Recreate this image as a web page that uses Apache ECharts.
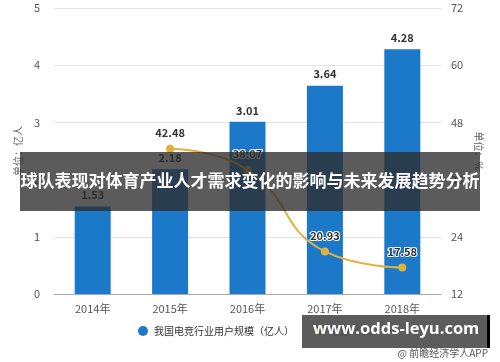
<!DOCTYPE html>
<html><head><meta charset="utf-8">
<script src="https://cdn.jsdelivr.net/npm/echarts@6/dist/echarts.min.js"></script>
<style>html,body{margin:0;padding:0;background:#fff}#c{width:500px;height:362px}</style>
</head><body><div id="c"></div>
<script>
const categories = ['2014年','2015年','2016年','2017年','2018年'];
const users = [1.53, 2.18, 3.01, 3.64, 4.28];
const growth = [null, 42.48, 38.07, 20.93, 17.58];
const seriesNames = ['我国电竞行业用户规模（亿人）', '增速（%）'];
const titleText = '球队表现对体育产业人才需求变化的影响与未来发展趋势分析';
const siteText = 'www.odds-leyu.com';
const sourceText = '@ 前瞻经济学人APP';

const chart = echarts.init(document.getElementById('c'));
chart.setOption({
  animation: false,
  textStyle: {fontFamily: '"Noto Sans CJK SC", "Noto Sans", sans-serif'},
  grid: {left: 54, right: 59, top: 8, bottom: 68},
  legend: {
    bottom: 21, left: 133, itemGap: 18, itemWidth: 12, itemHeight: 10,
    textStyle: {fontSize: 10, color: '#333'},
    data: [{name: seriesNames[0], icon: 'circle'}, {name: seriesNames[1]}]
  },
  xAxis: {
    type: 'category', data: categories,
    axisLine: {lineStyle: {color: '#aaa'}},
    axisTick: {alignWithLabel: true, lineStyle: {color: '#aaa'}},
    axisLabel: {color: '#555', fontSize: 11, margin: 9}
  },
  yAxis: [{
    type: 'value', min: 0, max: 5, interval: 1,
    name: '单位：亿人', nameLocation: 'middle', nameGap: 27, nameRotate: 90,
    nameTextStyle: {color: '#666', fontSize: 10},
    axisLine: {show: false}, axisTick: {show: false},
    axisLabel: {color: '#555', fontSize: 11, margin: 14},
    splitLine: {lineStyle: {color: '#e3e3e3'}}
  }, {
    type: 'value', min: 12, max: 72, interval: 12,
    name: '单位：%', nameLocation: 'middle', nameGap: 27, nameRotate: -90,
    nameTextStyle: {color: '#666', fontSize: 10},
    axisLine: {show: false}, axisTick: {show: false},
    axisLabel: {color: '#555', fontSize: 11, margin: 10},
    splitLine: {show: false}
  }],
  series: [{
    name: seriesNames[0], type: 'bar', data: users, barWidth: 36,
    itemStyle: {color: '#1c79c9'},
    label: {show: true, position: 'top', color: '#333', fontWeight: 'bold', fontSize: 11, distance: 6}
  }, {
    name: seriesNames[1], type: 'line', yAxisIndex: 1, data: growth, smooth: true,
    symbol: 'circle', symbolSize: 8,
    lineStyle: {color: '#e2b13c', width: 2}, itemStyle: {color: '#e2b13c'},
    label: {show: true, position: 'top', color: '#333', fontWeight: 'bold', fontSize: 11,
      textBorderColor: '#fff', textBorderWidth: 2, distance: 6}
  }],
  graphic: [{
    type: 'rect', left: 20, top: 152, z: 100,
    shape: {width: 460, height: 59},
    style: {fill: 'rgba(45,45,45,0.78)'}
  }, {
    type: 'text', left: 'center', top: 172, z: 101,
    style: {text: titleText, fill: '#fff', font: 'bold 17px "Noto Sans CJK SC", sans-serif'}
  }, {
    type: 'rect', left: 302, top: 315, z: 100,
    shape: {width: 185, height: 33},
    style: {fill: 'rgba(70,70,70,0.88)'}
  }, {
    type: 'rect', left: 487, top: 315, z: 101,
    shape: {width: 3, height: 33},
    style: {fill: '#000'}
  }, {
    type: 'text', left: 313, top: 321, z: 102,
    style: {text: siteText, fill: '#fff', font: 'bold 16.5px "Open Sans", sans-serif'}
  }, {
    type: 'text', right: 12, top: 348, z: 102,
    style: {text: sourceText, fill: '#555', font: '10px "Noto Sans CJK SC", sans-serif'}
  }]
});
</script></body></html>
